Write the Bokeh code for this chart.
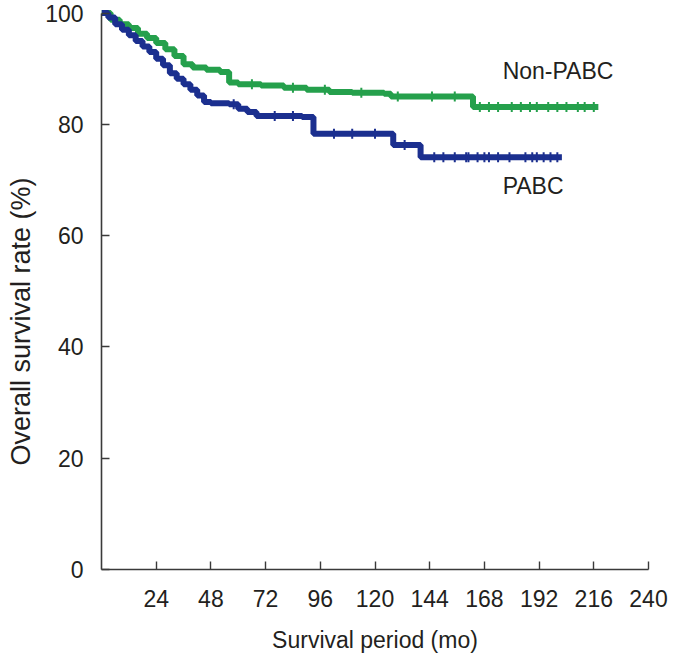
import numpy as np
from bokeh.plotting import figure
from bokeh.models import Range1d, Label, FixedTicker, Title
from bokeh.embed import file_html
from bokeh.resources import INLINE

# ---- data ----
x_ticks = [24, 48, 72, 96, 120, 144, 168, 192, 216, 240]
y_ticks = [0, 20, 40, 60, 80, 100]

pabc_time = [0, 3, 6, 9, 12, 15, 18, 21, 24, 27, 30, 33, 36, 39, 42, 45, 48,
             56, 60, 64, 68, 88, 93, 128, 140, 202]
pabc_surv = [100, 99.2, 98, 97, 96, 95, 94, 93, 91.8, 90.6, 89.2, 88.2, 87.2,
             86.2, 85.2, 84.0, 83.8, 83.6, 82.8, 82.2, 81.5, 81.3, 78.3, 76.3,
             74.1, 74.1]
pabc_censor = [58, 76, 84, 102, 110, 120, 133, 146, 150, 155, 160, 161, 165,
               168, 170, 174, 179, 186, 189, 191, 194, 197, 200]

non_time = [0, 4, 8, 12, 16, 20, 24, 28, 32, 36, 40, 46, 52, 56, 60, 70, 80,
            90, 100, 110, 124, 127, 163, 218]
non_surv = [100, 98.8, 98, 97.3, 96.3, 95.5, 94.6, 93.5, 92.3, 90.8, 90.2,
            89.8, 89.4, 87.5, 87.2, 87.0, 86.6, 86.2, 85.8, 85.7, 85.5, 85.0,
            83.1, 83.1]
non_censor = [66, 84, 98, 114, 130, 145, 155, 166, 170, 174, 180, 184, 188,
              191, 196, 200, 204, 209, 212, 216]

series_names = ["Non-PABC", "PABC"]
x_title = "Survival period (mo)"
y_title = "Overall survival rate (%)"

GREEN = "#25a04c"
BLUE = "#1b2f8f"
INK = "#231f20"
AXIS = "#3a3a3a"
FONT = "Liberation Sans"


def step_at(times, survs, t):
    idx = np.searchsorted(np.asarray(times), t, side="right") - 1
    return np.asarray(survs)[idx]


p = figure(width=669, height=655, output_backend="svg", toolbar_location=None,
           x_range=Range1d(0, 240), y_range=Range1d(0, 101),
           min_border_left=101, min_border_right=21, min_border_top=7,
           min_border_bottom=83, outline_line_color=None)
p.grid.visible = False

for t, s, c, col in [(non_time, non_surv, non_censor, GREEN),
                     (pabc_time, pabc_surv, pabc_censor, BLUE)]:
    p.step(t, s, mode="after", line_color=col, line_width=6)
    p.scatter(c, step_at(t, s, c), marker="dash", angle=np.pi / 2, size=10,
              line_color=col, line_width=2)

for ax in (p.xaxis[0], p.yaxis[0]):
    ax.axis_line_color = AXIS
    ax.axis_line_width = 1.6
    ax.major_tick_line_color = AXIS
    ax.major_tick_line_width = 1.4
    ax.major_tick_in = 8
    ax.major_tick_out = 0
    ax.minor_tick_line_color = None
    ax.major_label_text_font = FONT
    ax.major_label_text_font_size = "23px"
    ax.major_label_text_color = INK
    ax.major_label_standoff = 18
    ax.axis_label_text_font = FONT
    ax.axis_label_text_font_size = "23px"
    ax.axis_label_text_font_style = "normal"
    ax.axis_label_text_color = INK

p.xaxis.ticker = FixedTicker(ticks=x_ticks)
p.xaxis.bounds = (0, 240)
p.xaxis.axis_label = x_title
p.xaxis.major_label_standoff = 20
p.xaxis.axis_label_standoff = 17
p.yaxis.ticker = FixedTicker(ticks=y_ticks)
p.yaxis.bounds = (0, 100)

p.add_layout(Title(text=y_title, align="left", offset=104, standoff=10,
                   vertical_align="top",
                   text_font=FONT, text_font_size="27px",
                   text_font_style="normal", text_color=INK), "left")

p.add_layout(Label(x=176, y=89.6, text=series_names[0], text_font=FONT,
                   text_font_size="23px", text_color=INK,
                   text_baseline="middle"))
p.add_layout(Label(x=176, y=68.9, text=series_names[1], text_font=FONT,
                   text_font_size="23px", text_color=INK,
                   text_baseline="middle"))

open("out.html", "w").write(file_html(p, INLINE))
